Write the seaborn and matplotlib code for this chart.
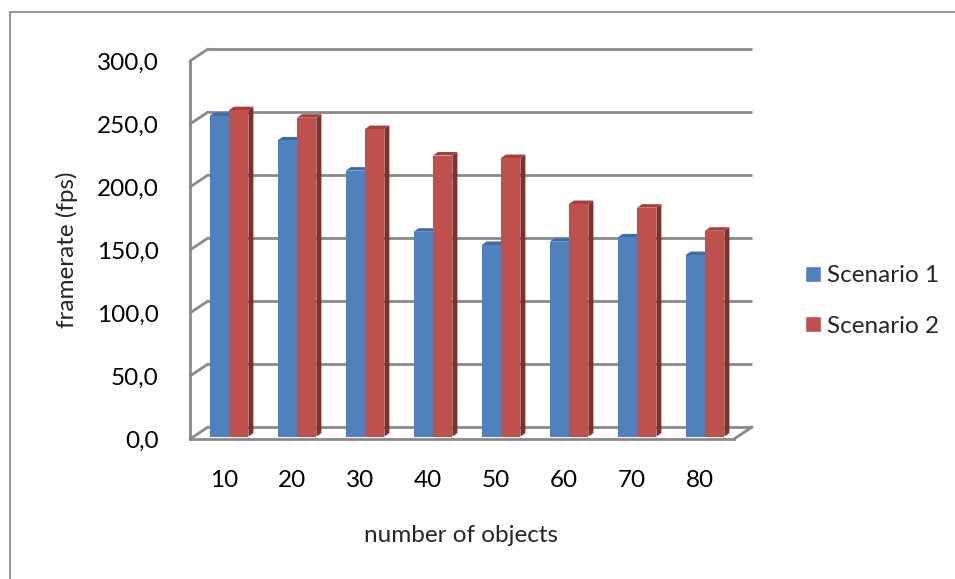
import matplotlib
matplotlib.use("Agg")
import matplotlib.pyplot as plt
import matplotlib.patches as mpatches
from matplotlib.patches import Polygon
from matplotlib.ticker import FixedLocator
import seaborn as sns
import pandas as pd

# ---- data -------------------------------------------------------------
objects = ["10", "20", "30", "40", "50", "60", "70", "80"]
scenario_1 = [254.4, 235.0, 211.0, 162.5, 152.0, 154.6, 158.0, 144.0]
scenario_2 = [259.0, 253.0, 244.0, 223.0, 221.0, 184.5, 181.6, 163.3]
series_names = ["Scenario 1", "Scenario 2"]
y_ticks = [0, 50, 100, 150, 200, 250, 300]

df = pd.DataFrame({
    "objects": objects * 2,
    "fps": scenario_1 + scenario_2,
    "scenario": [series_names[0]] * len(objects) + [series_names[1]] * len(objects),
})

# ---- style ------------------------------------------------------------
sns.set_style("white")
plt.rcParams["font.family"] = ["Lato", "DejaVu Sans"]
FS = 17.5
GRID = "#8a8a8a"
FRONT = {"Scenario 1": "#4f81bd", "Scenario 2": "#c0504d"}
SIDE = {"Scenario 1": "#385d8a", "Scenario 2": "#7f302e"}
TOP = {"Scenario 1": "#3f6ca3", "Scenario 2": "#a53f3c"}

W, H = 955, 579
fig = plt.figure(figsize=(W / 100, H / 100), dpi=100)

# plot area in pixels: front plane of the 3-D box
L, R, T, B = 190, 734, 61, 439
ax = fig.add_axes([L / W, 1 - B / H, (R - L) / W, (B - T) / H])

sns.barplot(data=df, x="objects", y="fps", hue="scenario",
            palette=[FRONT[s] for s in series_names], saturation=1,
            width=0.57, ax=ax, legend=True)
handles, labels = ax.get_legend_handles_labels()
ax.get_legend().remove()

ax.set_xlim(-0.5, len(objects) - 0.5)
ax.set_ylim(0, 300)

# pixel -> data conversion factors
px_x = len(objects) / (R - L)
px_y = 300 / (B - T)

# back wall offset (depth of the box) and bar depth, in pixels
WALL_DX, WALL_DY = 18, 12
BAR_SHIFT_X, BAR_SHIFT_Y = 5, 2.5
BAR_DX, BAR_DY = 5, 3.5

# ---- walls: back gridlines, side-wall diagonals, floor ----------------
for v in y_ticks:
    x0 = -0.5 + WALL_DX * px_x
    x1 = len(objects) - 0.5 + WALL_DX * px_x
    yy = v + WALL_DY * px_y
    ax.plot([x0, x1], [yy, yy], color=GRID, lw=2.0, zorder=0.5,
            clip_on=False, solid_capstyle="butt")
    ax.plot([-0.5, x0], [v, yy], color=GRID, lw=2.0, zorder=0.5,
            clip_on=False)
# right edge of the floor
ax.plot([len(objects) - 0.5, len(objects) - 0.5 + WALL_DX * px_x],
        [0, WALL_DY * px_y], color=GRID, lw=2.0, zorder=0.5, clip_on=False)

# ---- bars: shift to mid-depth and add side/top faces ------------------
for name, cont in zip(series_names, ax.containers):
    for bar in cont:
        bar.set_x(bar.get_x() + BAR_SHIFT_X * px_x)
        bar.set_y(BAR_SHIFT_Y * px_y)
        bar.set_edgecolor("none")
        bar.set_zorder(3)
        x0 = bar.get_x()
        x1 = x0 + bar.get_width()
        y0 = bar.get_y()
        y1 = y0 + bar.get_height()
        ddx, ddy = BAR_DX * px_x, BAR_DY * px_y
        side = Polygon([(x1, y0), (x1 + ddx, y0 + ddy), (x1 + ddx, y1 + ddy), (x1, y1)],
                       closed=True, facecolor=SIDE[name], edgecolor="none",
                       zorder=2, clip_on=False)
        top = Polygon([(x0, y1), (x1, y1), (x1 + ddx, y1 + ddy), (x0 + ddx, y1 + ddy)],
                      closed=True, facecolor=TOP[name], edgecolor="none",
                      zorder=2, clip_on=False)
        ax.add_patch(side)
        ax.add_patch(top)

# ---- axes, ticks, labels ---------------------------------------------
for s in ["top", "right"]:
    ax.spines[s].set_visible(False)
for s in ["left", "bottom"]:
    ax.spines[s].set_color(GRID)
    ax.spines[s].set_linewidth(2.0)
    ax.spines[s].set_zorder(1)

ax.set_yticks(y_ticks)
ax.set_yticklabels([f"{v:.1f}".replace(".", ",") for v in y_ticks])
ax.xaxis.set_minor_locator(FixedLocator([i - 0.5 for i in range(len(objects) + 1)]))
ax.tick_params(axis="y", length=9, width=2.0, color=GRID, labelsize=FS,
               pad=13.5, labelcolor="black")
ax.tick_params(axis="x", which="major", length=0, labelsize=FS, pad=22,
               labelcolor="black")
ax.tick_params(axis="x", which="minor", length=9, width=2.0, color=GRID)

ax.set_xlabel("number of objects", fontsize=FS)
ax.set_ylabel("framerate (fps)", fontsize=FS)
ax.xaxis.label.set_verticalalignment("center")
ax.yaxis.label.set_verticalalignment("center")
ax.xaxis.set_label_coords((461 - L) / (R - L), -(536 - B) / (B - T))
ax.yaxis.set_label_coords(-(L - 67) / (R - L), (B - 250) / (B - T))

# ---- legend -----------------------------------------------------------
fig.legend(handles, labels, loc="center left",
           bbox_to_anchor=(805 / W, 1 - 301 / H), frameon=False,
           fontsize=FS, handlelength=0.64, handleheight=0.64,
           handletextpad=0.26, labelspacing=1.2, borderpad=0,
           borderaxespad=0)

# ---- outer chart frame ------------------------------------------------
frame = mpatches.Rectangle((9.5 / W, -0.5), 1.5, 1 - 11.5 / H + 0.5,
                           transform=fig.transFigure, fill=False,
                           edgecolor="#8c8c8c", lw=1.3, zorder=-1)
fig.patches.append(frame)

fig.savefig("out.png", dpi=100)
